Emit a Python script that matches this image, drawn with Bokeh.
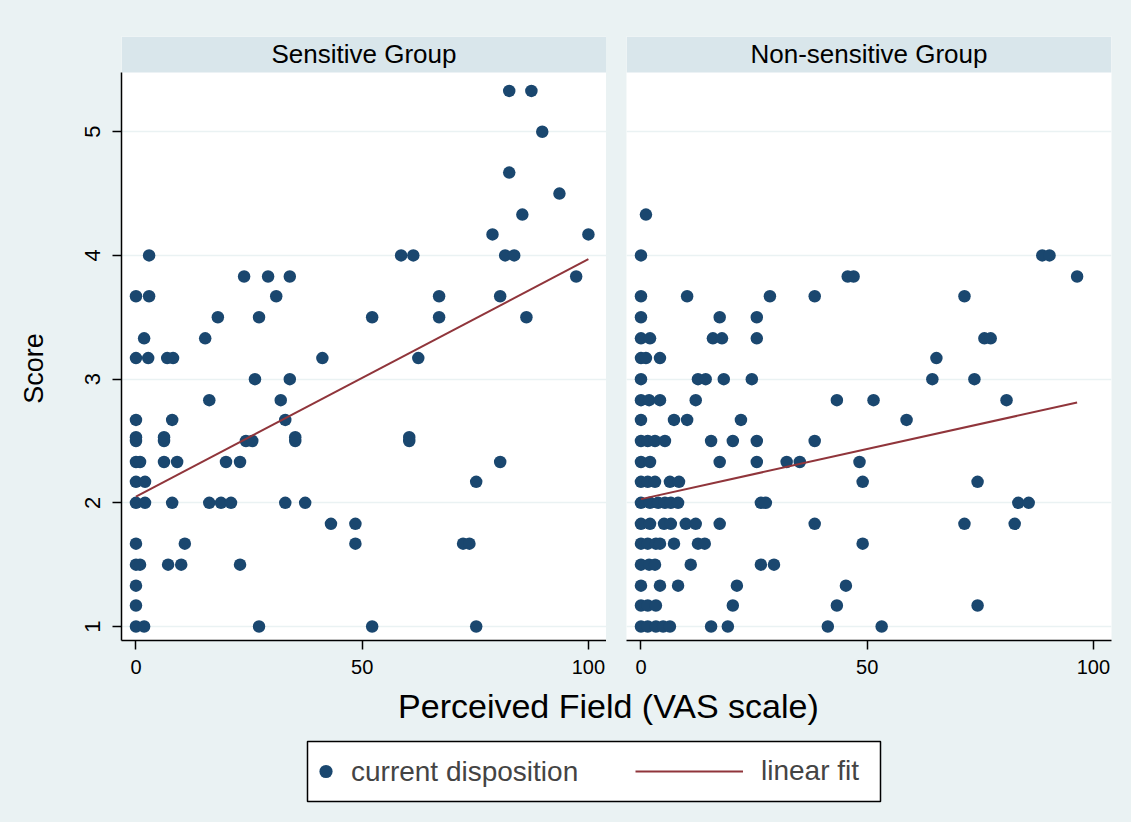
import math
from bokeh.plotting import figure
from bokeh.layouts import column, row
from bokeh.models import Range1d, FixedTicker, BoxAnnotation, Label, Legend, LegendItem
from bokeh.embed import file_html
from bokeh.resources import INLINE

# ---------------- data ----------------
panel_titles = ["Sensitive Group", "Non-sensitive Group"]
x_ticks = [0, 50, 100]
y_ticks = [1, 2, 3, 4, 5]

# Sensitive group: perceived field (VAS) and score
sens_vas = [
    0, 1.8, 27.2, 52.2, 75.2,                       # 1.00
    0,                                              # 1.17
    0,                                              # 1.33
    0, 0.9, 7.1, 10, 23,                            # 1.50
    0, 10.8, 48.5, 72.3, 73.7,                      # 1.67
    43.1, 48.5,                                     # 1.83
    0, 2, 8, 16.2, 18.8, 21, 33, 37.4,              # 2.00
    0, 2, 75.2,                                     # 2.17
    0, 0.9, 6.2, 9.1, 19.9, 23, 80.5,               # 2.33
    0, 0, 6.2, 6.2, 24.3, 25.7, 35.2, 35.2, 60.4, 60.4,  # 2.50
    0, 8, 33,                                       # 2.67
    16.2, 32,                                       # 2.83
    26.3, 34,                                       # 3.00
    0, 2.7, 6.9, 8.2, 41.2, 62.4,                   # 3.17
    1.8, 15.3,                                      # 3.33
    18.1, 27.2, 52.2, 67, 86.3,                     # 3.50
    0, 2.9, 31, 67, 80.5,                           # 3.67
    23.9, 29.2, 34, 97.3,                           # 3.83
    2.9, 58.6, 61.3, 81.6, 83.6,                    # 4.00
    78.8, 100,                                      # 4.17
    85.4,                                           # 4.33
    93.6,                                           # 4.50
    82.5,                                           # 4.67
    89.8,                                           # 5.00
    82.5, 87.4,                                     # 5.33
]
sens_score = (
    [1.0] * 5 + [1.17] + [1.33] + [1.5] * 5 + [1.67] * 5 + [1.83] * 2 + [2.0] * 8
    + [2.17] * 3 + [2.33] * 7
    + [2.5, 2.53, 2.5, 2.53, 2.5, 2.5, 2.5, 2.53, 2.5, 2.53]
    + [2.67] * 3 + [2.83] * 2 + [3.0] * 2 + [3.17] * 6 + [3.33] * 2 + [3.5] * 5
    + [3.67] * 5 + [3.83] * 4 + [4.0] * 5 + [4.17] * 2 + [4.33] + [4.5] + [4.67]
    + [5.0] + [5.33] * 2
)

# Non-sensitive group
nons_vas = [
    0, 1.5, 3.3, 4.9, 6.4, 15.5, 19.2, 41.3, 53.2,          # 1.00
    0, 1.5, 3.3, 20.3, 43.3, 74.4,                          # 1.17
    0, 4.2, 8.2, 21.2, 45.3,                                # 1.33
    0, 1.8, 3.1, 11, 26.5, 29.4,                            # 1.50
    0, 1.5, 3.3, 4.2, 7.3, 12.6, 14.1, 49,                  # 1.67
    0, 2, 5.1, 6.6, 9.9, 12.1, 17.4, 38.4, 71.5, 82.6,      # 1.83
    0, 2, 3.8, 5.3, 6.6, 8.2, 26.5, 27.6, 83.4, 85.7,       # 2.00
    0, 1.5, 3.1, 6.4, 8.4, 49, 74.4,                        # 2.17
    0, 2, 17.4, 25.6, 32.2, 35.1, 48.3,                     # 2.33
    0, 1.5, 3.1, 5.3, 15.5, 20.3, 25.6, 38.4,               # 2.50
    0, 7.3, 10.2, 22.1, 58.7,                               # 2.67
    0, 1.8, 4.2, 12.1, 43.3, 51.4, 80.8,                    # 2.83
    0, 12.6, 14.3, 18.3, 24.5, 64.4, 73.7,                  # 3.00
    0, 1.1, 4.2, 65.3,                                      # 3.17
    0, 2, 15.9, 17.9, 25.6, 75.9, 77.3,                     # 3.33
    0, 17.4, 25.6,                                          # 3.50
    0, 10.2, 28.5, 38.4, 71.5,                              # 3.67
    45.7, 47, 96.4,                                         # 3.83
    0, 88.7, 90.3,                                          # 4.00
    1.1,                                                    # 4.33
]
nons_score = (
    [1.0] * 9 + [1.17] * 6 + [1.33] * 5 + [1.5] * 6 + [1.67] * 8 + [1.83] * 10
    + [2.0] * 10 + [2.17] * 7 + [2.33] * 7 + [2.5] * 8 + [2.67] * 5 + [2.83] * 7
    + [3.0] * 7 + [3.17] * 4 + [3.33] * 7 + [3.5] * 3 + [3.67] * 5 + [3.83] * 3
    + [4.0] * 3 + [4.33]
)

# linear fit (intercept, slope) as drawn in the reference
sens_fit = [2.05, 0.0192]
nons_fit = [2.03, 0.0081]

legend_labels = ["current disposition", "linear fit"]
x_title = "Perceived Field (VAS scale)"
y_title = "Score"

# ---------------- style ----------------
BG = "#EAF2F3"
STRIP = "#D9E6EB"
NAVY = "#1A476F"
MAROON = "#90353B"
FONT = "Liberation Sans"

TOTAL_W, TOTAL_H = 1131, 822
X_LO, X_HI = -3.2, 104.0
Y_LO, Y_HI = 0.887, 5.770
STRIP_BOTTOM = 5.479
FRAME_W = 485
PANEL_H = 684
TITLE_COL_W = 70          # strip of page holding the y title
XT_H = 55                 # strip of page holding the x title


def fit_line(xs, fit):
    x0, x1 = min(xs), max(xs)
    return [x0, x1], [fit[0] + fit[1] * x0, fit[0] + fit[1] * x1]


def text_box(width, height, text, fx, fy, size, angle=0.0):
    """A bare figure whose whole canvas is the frame, holding one text."""
    f = figure(width=width, height=height, x_range=Range1d(0, 1), y_range=Range1d(0, 1),
               output_backend="svg", toolbar_location=None,
               x_axis_location=None, y_axis_location=None,
               min_border=0, background_fill_color=BG, border_fill_color=BG,
               outline_line_color=None)
    f.xgrid.visible = False
    f.ygrid.visible = False
    f.add_layout(Label(x=fx, y=fy, text=text, angle=angle, text_align="center",
                       text_baseline="middle", text_font=FONT,
                       text_font_size=size, text_color="black"))
    return f


def make_panel(title, xs, ys, fit, left_b, right_b, show_y):
    p = figure(width=left_b + FRAME_W + right_b, height=PANEL_H,
               x_range=Range1d(X_LO, X_HI), y_range=Range1d(Y_LO, Y_HI),
               output_backend="svg", toolbar_location=None,
               min_border_left=left_b, min_border_right=right_b,
               min_border_top=36, min_border_bottom=44,
               background_fill_color="white", border_fill_color=BG,
               outline_line_color=None,
               y_axis_location="left" if show_y else None)
    p.xgrid.visible = False
    p.ygrid.ticker = FixedTicker(ticks=y_ticks)
    p.ygrid.grid_line_color = BG
    p.ygrid.grid_line_width = 1.6

    xa = p.xaxis[0]
    xa.ticker = FixedTicker(ticks=x_ticks)
    xa.axis_line_color = "black"
    xa.axis_line_width = 1.5
    xa.major_tick_in = 0
    xa.major_tick_out = 9
    xa.major_tick_line_width = 1.5
    xa.minor_tick_line_color = None
    xa.major_label_text_font = FONT
    xa.major_label_text_font_size = "20px"
    xa.major_label_text_color = "black"
    xa.major_label_standoff = 10

    if show_y:
        ya = p.yaxis[0]
        ya.ticker = FixedTicker(ticks=y_ticks)
        ya.bounds = (Y_LO, STRIP_BOTTOM)
        ya.axis_line_color = "black"
        ya.axis_line_width = 1.5
        ya.major_tick_in = 0
        ya.major_tick_out = 9
        ya.major_tick_line_width = 1.5
        ya.minor_tick_line_color = None
        ya.major_label_orientation = "vertical"
        ya.major_label_text_font = FONT
        ya.major_label_text_font_size = "22px"
        ya.major_label_text_color = "black"
        ya.major_label_standoff = 12

    # strip header
    p.add_layout(BoxAnnotation(bottom=STRIP_BOTTOM, fill_color=STRIP, fill_alpha=1.0,
                               line_color=None, level="underlay"))
    p.add_layout(Label(x=(X_LO + X_HI) / 2, y=(STRIP_BOTTOM + Y_HI) / 2, text=title,
                       text_align="center", text_baseline="middle",
                       text_font=FONT, text_font_size="26px", text_color="black"))

    p.scatter(xs, ys, size=12.5, fill_color=NAVY, line_color=None)
    lx, ly = fit_line(xs, fit)
    p.line(lx, ly, line_color=MAROON, line_width=2)
    return p


# y title column (text centred 33 px from the left, 376 px from the top)
ps = text_box(TITLE_COL_W, PANEL_H, y_title, 33 / TITLE_COL_W, 1 - 376 / PANEL_H,
              "27px", angle=math.pi / 2)
p1 = make_panel(panel_titles[0], sens_vas, sens_score, sens_fit, 121 - TITLE_COL_W, 0, True)
p2 = make_panel(panel_titles[1], nons_vas, nons_score, nons_fit, 20, 20, False)

# x title row (text centred at 594 px from the left, 21 px from the top)
px = text_box(TOTAL_W, XT_H, x_title, 594 / TOTAL_W, 1 - 21 / XT_H, "34px")

# legend: frame = legend box; its range shows none of the data
PB_H = TOTAL_H - PANEL_H - XT_H
pb = figure(width=TOTAL_W, height=PB_H, x_range=Range1d(0, 1), y_range=Range1d(-2, -1),
            output_backend="svg", toolbar_location=None,
            x_axis_location=None, y_axis_location=None,
            min_border_left=307, min_border_right=TOTAL_W - 307 - 573,
            min_border_top=2, min_border_bottom=PB_H - 2 - 60,
            background_fill_color="white", border_fill_color=BG,
            outline_line_color="black", outline_line_width=1.5)
pb.xgrid.visible = False
pb.ygrid.visible = False

rA = pb.scatter(sens_vas, sens_score, size=13, fill_color=NAVY, line_color=None)
lx, ly = fit_line(sens_vas, sens_fit)
rB = pb.line(lx, ly, line_color=MAROON, line_width=2)

legA = Legend(items=[LegendItem(label=legend_labels[0], renderers=[rA])],
              location="left", margin=2, padding=0,
              glyph_width=33, glyph_height=33, label_standoff=9,
              label_text_font=FONT, label_text_font_size="28px",
              border_line_color=None, background_fill_alpha=0)
legB = Legend(items=[LegendItem(label=legend_labels[1], renderers=[rB])],
              location="left", margin=328, padding=0,
              glyph_width=108, glyph_height=20, label_standoff=18,
              label_text_font=FONT, label_text_font_size="28px",
              border_line_color=None, background_fill_alpha=0)
pb.add_layout(legA, "center")
pb.add_layout(legB, "center")

bg_style = {"background-color": BG}
layout = column(row(ps, p1, p2, spacing=0, styles=bg_style), px, pb,
                spacing=0, styles=bg_style)
open("out.html", "w").write(file_html(layout, INLINE))
